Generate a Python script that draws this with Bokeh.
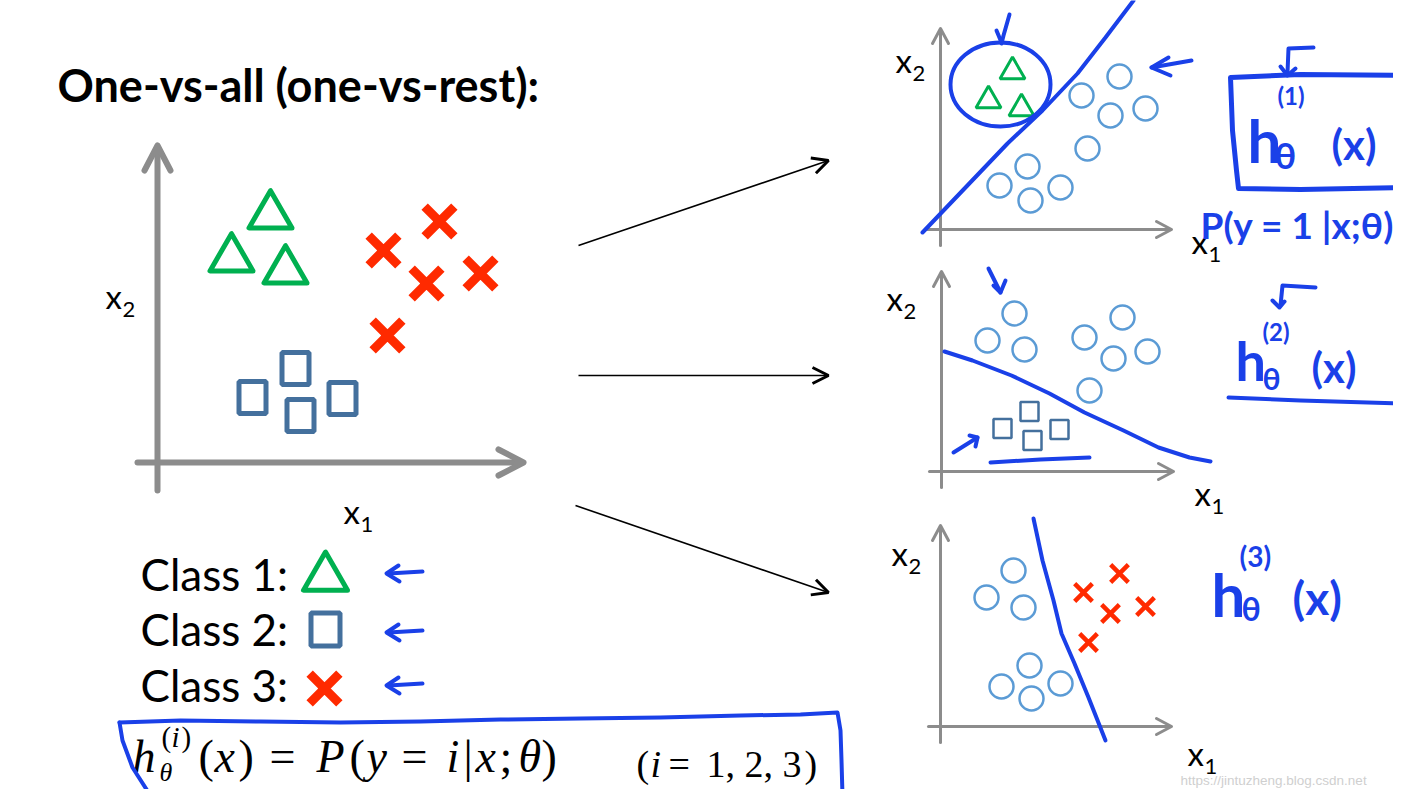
from bokeh.plotting import figure
from bokeh.models import Range1d, Arrow, OpenHead
from bokeh.core.properties import value
from bokeh.embed import file_html
from bokeh.resources import INLINE

# ---------------- data (image-space positions of the sketch's points) ----------------
main_tri_x = [270, 231, 285]
main_tri_y = [215, 258, 270]
main_sq_x = [252, 295, 300, 342]
main_sq_y = [397, 368, 415, 398]
main_x_x = [383, 439, 426, 480, 387]
main_x_y = [250, 221, 283, 273, 335]

p1_tri_x = [1012, 988, 1021]
p1_tri_y = [71, 100, 108]
p1_circ_x = [1119, 1081, 1110, 1145, 1087, 1027, 999, 1030, 1060]
p1_circ_y = [76, 95, 115, 108, 148, 166, 185, 200, 187]
p1_bound_x = [922, 965, 1007, 1042, 1077, 1105, 1133]
p1_bound_y = [232, 187, 143, 110, 73, 37, 0]

p2_circ_x = [1014, 987, 1024, 1084, 1122, 1113, 1147, 1089]
p2_circ_y = [313, 340, 349, 337, 317, 358, 351, 390]
p2_sq_x = [1002, 1029, 1032, 1059]
p2_sq_y = [428, 411, 440, 429]
p2_bound_x = [944, 972, 1011, 1049, 1084, 1123, 1158, 1189, 1210]
p2_bound_y = [351, 360, 375, 393, 412, 430, 447, 457, 461]

p3_circ_x = [1013, 986, 1023, 1029, 1001, 1031, 1060]
p3_circ_y = [570, 597, 607, 665, 686, 698, 683]
p3_x_x = [1083, 1119, 1110, 1145, 1088]
p3_x_y = [592, 573, 613, 606, 642]
p3_bound_x = [1033, 1042, 1053, 1061, 1074, 1088, 1105]
p3_bound_y = [518, 560, 600, 633, 663, 697, 740]

class_labels = ["Class 1:", "Class 2:", "Class 3:"]
class_markers = ["triangle", "square", "x"]

# ---------------- styles ----------------
GREEN = "#00b050"
RED = "#ff2a00"
SQC = "#44709d"
CIRC = "#5b9bd5"
INK = "#1a40e8"
GRAY = "#8c8c8c"

W, H = 1393, 789
p = figure(width=W, height=H, x_range=Range1d(0, W), y_range=Range1d(H, 0),
           output_backend="svg", toolbar_location=None, min_border=0,
           x_axis_location=None, y_axis_location=None)
p.grid.visible = False
p.outline_line_color = None
p.background_fill_color = "white"
p.border_fill_color = "white"

# distance from the centre of a font's ascent/descent box to its baseline, in em
KMID = {"Lato": 0.387, "Liberation Serif": 0.338, "Liberation Sans": 0.347}


def txt(x, b, s, size, color="black", font="Lato", style="normal"):
    """Place text s with its left end at x and its baseline at b."""
    p.text(x=[x], y=[b - KMID[font] * size], text=[s], text_font=value(font),
           text_font_size=value(f"{size}px"), text_font_style=style, text_color=color,
           text_baseline="middle", text_align="left")


def stroke(pts, color=INK, width=4):
    p.line([q[0] for q in pts], [q[1] for q in pts], line_color=color, line_width=width,
           line_cap="round", line_join="round")


def axes(x0, y0, xl, xr, yb, yt, lw, ah, aw):
    stroke([(x0, yb), (x0, yt + 2)], GRAY, lw)
    stroke([(xl, y0), (xr - 2, y0)], GRAY, lw)
    stroke([(x0 - aw, yt + ah), (x0, yt), (x0 + aw, yt + ah)], GRAY, lw)
    stroke([(xr - ah, y0 - aw), (xr, y0), (xr - ah, y0 + aw)], GRAY, lw)


def xlabel(x, y, sub):
    txt(x, y, "x", 33)
    txt(x + 17, y + 10, sub, 22)


# ---------------- title ----------------
txt(57, 102, "One-vs-all (one-vs-rest):", 45, style="bold")

# ---------------- main plot ----------------
axes(157, 462, 137, 523, 490, 145, 6, 25, 13)
xlabel(105, 308, "2")
xlabel(343, 523, "1")
p.scatter(main_tri_x, main_tri_y, marker="triangle", size=43, fill_color=None,
          line_color=GREEN, line_width=5, line_join="round")
p.rect(main_sq_x, main_sq_y, width=27, height=32, fill_color=None, line_color=SQC, line_width=5)
p.scatter(main_x_x, main_x_y, marker="x", size=42, line_color=RED, line_width=9)

# ---------------- connecting arrows ----------------
for xs, ys, xe, ye in [(578, 245, 828, 160), (578, 375, 828, 375), (575, 505, 828, 592)]:
    p.add_layout(Arrow(end=OpenHead(size=16, line_width=3, line_color="black"),
                       x_start=xs, y_start=ys, x_end=xe, y_end=ye,
                       line_width=1.6, line_color="black"))

# ---------------- legend ----------------
leg_y = [591, 646, 702]
for lab, y in zip(class_labels, leg_y):
    txt(140, y, lab, 44)
p.scatter([325], [577], marker="triangle", size=44, fill_color=None, line_color=GREEN,
          line_width=5, line_join="round")
p.rect([325], [629], width=29, height=33, fill_color=None, line_color=SQC, line_width=5)
p.scatter([324], [688], marker="x", size=42, line_color=RED, line_width=9)
for y in [573, 632, 685]:
    stroke([(388, y), (422, y - 2)], INK, 4)
    stroke([(398, y - 8), (386, y), (399, y + 8)], INK, 4)

# ---------------- formula ----------------
SER = "Liberation Serif"
fb = 772
txt(132, fb, "h", 46, font=SER, style="italic")
txt(161, 746, "(", 29, font=SER)
txt(171, 746, "i", 29, font=SER, style="italic")
txt(181, 746, ")", 29, font=SER)
txt(159, 781, "θ", 26, font=SER, style="italic")
txt(198, fb, "(", 46, font=SER)
txt(214, fb, "x", 46, font=SER, style="italic")
txt(238, fb, ")", 46, font=SER)
txt(269, fb, "=", 46, font=SER)
txt(316, fb, "P", 46, font=SER, style="italic")
txt(349, fb, "(", 46, font=SER)
txt(366, fb, "y", 46, font=SER, style="italic")
txt(401, fb, "=", 46, font=SER)
txt(446, fb, "i", 46, font=SER, style="italic")
txt(463, fb, "|", 46, font=SER)
txt(475, fb, "x", 46, font=SER, style="italic")
txt(499, fb, ";", 46, font=SER)
txt(518, fb, "θ", 46, font=SER, style="italic")
txt(541, fb, ")", 46, font=SER)
txt(636, 776, "(", 38, font=SER)
txt(650, 776, "i", 38, font=SER, style="italic")
txt(668, 776, "=", 38, font=SER)
txt(706, 776, "1, 2, 3", 38, font=SER)
txt(804, 776, ")", 38, font=SER)

# hand-drawn box round the formula
stroke([(119, 722), (180, 720), (260, 721), (340, 722), (420, 721), (500, 719), (580, 718),
        (660, 717), (740, 715), (800, 714), (837, 712), (840, 730), (841, 760), (842, 795),
        (780, 796), (720, 795), (657, 794)])
stroke([(119, 722), (122, 740), (132, 767), (148, 792), (158, 797)])
stroke([(150, 793), (210, 795), (270, 797)])
stroke([(376, 795), (430, 793), (478, 793)])

# ---------------- panel 1 ----------------
axes(940, 229, 926, 1171, 245, 28, 3, 15, 8)
xlabel(895, 72, "2")
xlabel(1191, 253, "1")
p.scatter(p1_circ_x, p1_circ_y, marker="circle", size=24, fill_color=None, line_color=CIRC, line_width=2.5)
p.scatter(p1_tri_x, p1_tri_y, marker="triangle", size=25, fill_color=None, line_color=GREEN, line_width=3)
p.line(p1_bound_x, p1_bound_y, line_color=INK, line_width=4, line_cap="round")
p.ellipse(x=[1000], y=[84], width=[100], height=[84], fill_color=None, line_color=INK, line_width=4)
stroke([(1009, 14), (1003, 35), (1001, 43)])
stroke([(996, 30), (1001, 42)])
stroke([(1151, 67), (1191, 60)])
stroke([(1168, 57), (1151, 67), (1170, 75)])
stroke([(1409, 75), (1300, 74), (1230, 77), (1232, 130), (1236, 170), (1238, 188), (1300, 189), (1409, 187)], INK, 5)
stroke([(1313, 47), (1288, 48), (1287, 72)])
stroke([(1280, 66), (1287, 75), (1295, 68)])
txt(1277, 104, "(1)", 24, INK, style="bold")
txt(1247, 163, "h", 60, INK, style="bold")
txt(1274, 168, "θ", 36, INK, style="bold")
txt(1331, 160, "(x)", 42, INK, style="bold")
txt(1200, 238, "P(y = 1 |x;θ)", 37, INK, style="bold")

# ---------------- panel 2 ----------------
axes(941, 471, 929, 1173, 487, 271, 3, 15, 8)
xlabel(886, 310, "2")
xlabel(1194, 505, "1")
p.scatter(p2_circ_x, p2_circ_y, marker="circle", size=24, fill_color=None, line_color=CIRC, line_width=2.5)
p.rect(p2_sq_x, p2_sq_y, width=18, height=19, fill_color=None, line_color=SQC, line_width=2.5)
p.line(p2_bound_x, p2_bound_y, line_color=INK, line_width=4, line_cap="round")
stroke([(988, 268), (1000, 292)])
stroke([(993, 285), (1000, 292), (1005, 280)])
stroke([(953, 452), (977, 437)])
stroke([(969, 435), (977, 437), (975, 446)])
stroke([(990, 462), (1040, 459), (1089, 457)])
stroke([(1315, 287), (1282, 285), (1280, 305)])
stroke([(1272, 300), (1279, 307), (1284, 301)])
txt(1262, 340, "(2)", 24, INK, style="bold")
txt(1235, 381, "h", 54, INK, style="bold")
txt(1262, 389, "θ", 30, INK, style="bold")
txt(1311, 383, "(x)", 42, INK, style="bold")
stroke([(1228, 397), (1300, 400), (1402, 403)])

# ---------------- panel 3 ----------------
axes(940, 726, 928, 1171, 742, 525, 3, 15, 8)
xlabel(891, 565, "2")
xlabel(1187, 765, "1")
p.scatter(p3_circ_x, p3_circ_y, marker="circle", size=24, fill_color=None, line_color=CIRC, line_width=2.5)
p.scatter(p3_x_x, p3_x_y, marker="x", size=25, line_color=RED, line_width=4.5)
p.line(p3_bound_x, p3_bound_y, line_color=INK, line_width=4, line_cap="round")
txt(1239, 566, "(3)", 28, INK, style="bold")
txt(1211, 617, "h", 60, INK, style="bold")
txt(1241, 620, "θ", 32, INK, style="bold")
txt(1292, 615, "(x)", 46, INK, style="bold")

# watermark
txt(1180, 785, "https://jintuzheng.blog.csdn.net", 13.5, "#cfcfcf", font="Liberation Sans")

open("out.html", "w").write(file_html(p, INLINE))
